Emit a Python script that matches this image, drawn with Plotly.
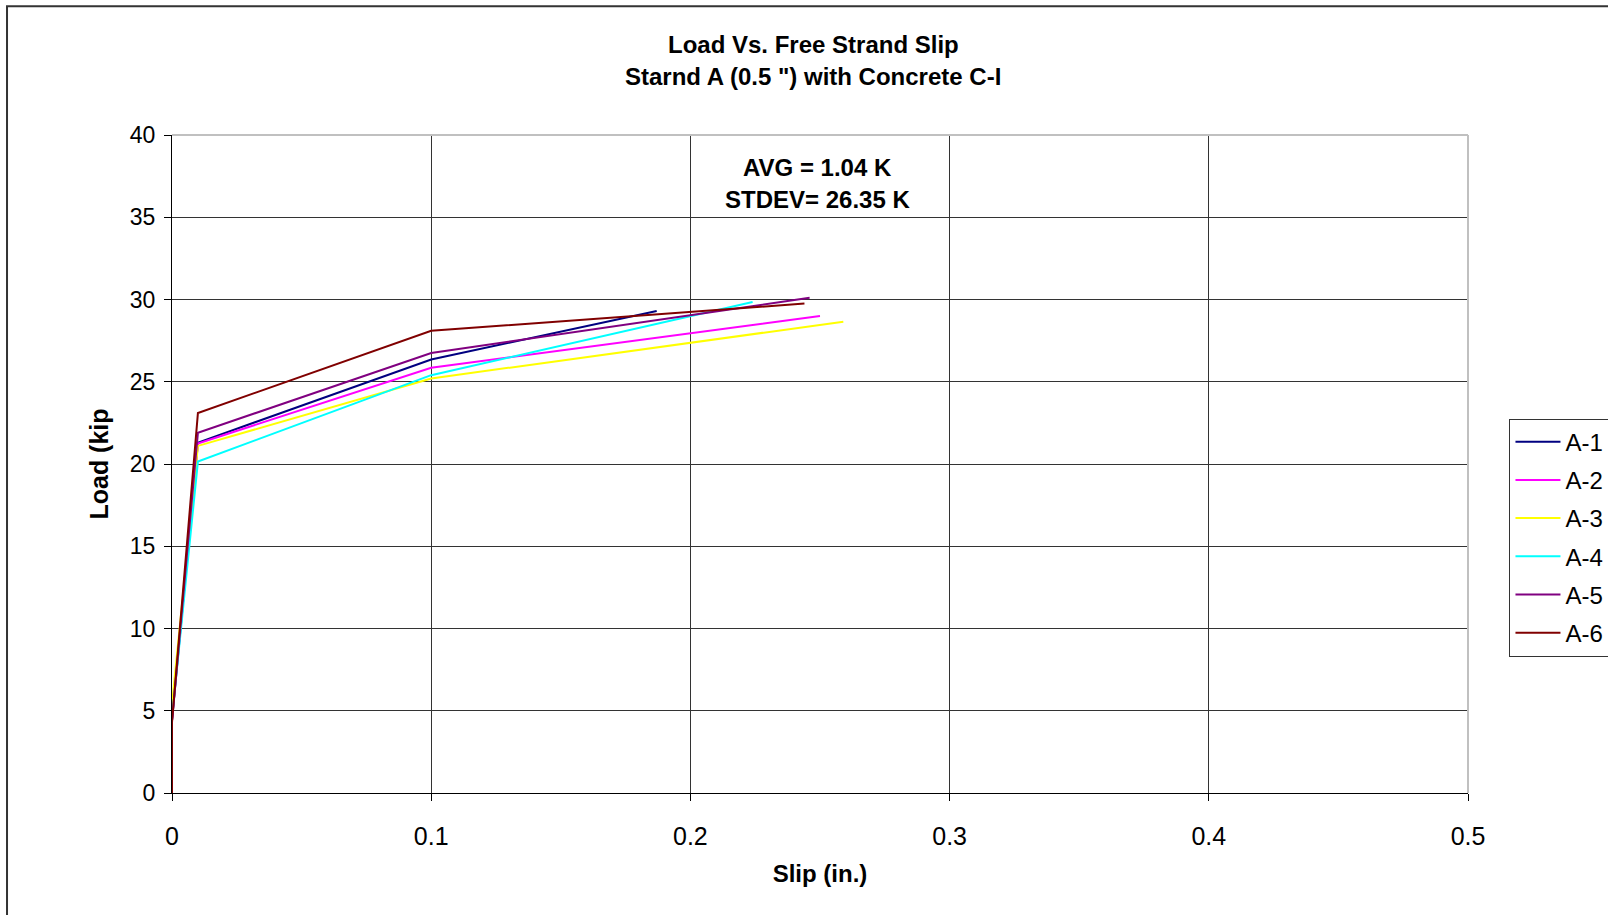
import plotly.graph_objects as go

names = ["A-1", "A-2", "A-3", "A-4", "A-5", "A-6"]
colors = ["#000080", "#FF00FF", "#FFFF00", "#00FFFF", "#800080", "#800000"]

slip_a1 = [0, 0, 0.01, 0.1, 0.187]
load_a1 = [0, 4.4, 21.3, 26.35, 29.3]
slip_a2 = [0, 0, 0.01, 0.1, 0.250]
load_a2 = [0, 4.5, 21.25, 25.85, 29.0]
slip_a3 = [0, 0, 0.01, 0.1, 0.259]
load_a3 = [0, 5.4, 21.1, 25.2, 28.65]
slip_a4 = [0, 0, 0.01, 0.1, 0.224]
load_a4 = [0, 4.6, 20.15, 25.4, 29.85]
slip_a5 = [0, 0, 0.01, 0.1, 0.246]
load_a5 = [0, 4.4, 21.9, 26.75, 30.1]
slip_a6 = [0, 0, 0.01, 0.1, 0.244]
load_a6 = [0, 4.3, 23.1, 28.1, 29.75]

slips = [slip_a1, slip_a2, slip_a3, slip_a4, slip_a5, slip_a6]
loads = [load_a1, load_a2, load_a3, load_a4, load_a5, load_a6]

x_ticks = [0, 0.1, 0.2, 0.3, 0.4, 0.5]
y_ticks = [0, 5, 10, 15, 20, 25, 30, 35, 40]

FONT = "Liberation Sans, Arial, sans-serif"

fig = go.Figure()
for n, c, xs, ys in zip(names, colors, slips, loads):
    fig.add_trace(go.Scatter(x=xs, y=ys, mode="lines", name=n, legendgroup=n,
                             line=dict(color=c, width=2)))

fig.update_layout(
    width=1608, height=915,
    margin=dict(l=172, r=140, t=135, b=122, autoexpand=False),
    paper_bgcolor="white", plot_bgcolor="white",
    font=dict(family=FONT, color="black"),
    showlegend=True,
    legend=dict(x=1.032, y=0.569, xanchor="left", yanchor="top",
                bordercolor="#333333", borderwidth=1, bgcolor="white",
                font=dict(size=24, family=FONT), traceorder="grouped",
                tracegroupgap=4, itemwidth=45),
    xaxis=dict(range=[0, 0.5], tickvals=x_ticks, ticktext=[str(v) for v in x_ticks],
               showgrid=True, gridcolor="#333333", gridwidth=1,
               showline=True, linecolor="black", linewidth=1,
               ticks="outside", ticklen=7, tickcolor="black",
               tickfont=dict(size=25), ticklabelstandoff=14, zeroline=False,
               title=dict(text="<b>Slip (in.)</b>", font=dict(size=24), standoff=16)),
    yaxis=dict(range=[0, 40], tickvals=y_ticks,
               showgrid=True, gridcolor="#333333", gridwidth=1,
               showline=True, linecolor="black", linewidth=1,
               ticks="outside", ticklen=7, tickcolor="black",
               tickfont=dict(size=23), ticklabelstandoff=4, zeroline=False,
               title=dict(text="<b>Load (kip</b>", font=dict(size=25), standoff=14)),
)

# light gray plot border on top and right
fig.add_shape(type="line", xref="paper", yref="paper", x0=0, x1=1, y0=1, y1=1,
              line=dict(color="#c0c0c0", width=2), layer="above")
fig.add_shape(type="line", xref="paper", yref="paper", x0=1, x1=1, y0=0, y1=1,
              line=dict(color="#c0c0c0", width=2), layer="above")
# outer chart frame
fig.add_shape(type="rect", xref="paper", yref="paper", x0=-0.1273, x1=1.5,
              y0=-0.6, y1=1.1956, line=dict(color="#333333", width=2), layer="below")

fig.add_annotation(text="<b>Load Vs. Free Strand Slip</b>", xref="paper", yref="paper",
                   x=0.4946, y=(792.7 - 44) / 658, showarrow=False,
                   xanchor="center", yanchor="middle", font=dict(size=24))
fig.add_annotation(text="<b>Starnd A (0.5 \") with Concrete C-I</b>", xref="paper", yref="paper",
                   x=0.4946, y=(792.7 - 76) / 658, showarrow=False,
                   xanchor="center", yanchor="middle", font=dict(size=24))
fig.add_annotation(text="<b>AVG = 1.04 K</b>", xref="paper", yref="paper",
                   x=0.4977, y=(792.7 - 167) / 658, showarrow=False,
                   xanchor="center", yanchor="middle", font=dict(size=24))
fig.add_annotation(text="<b>STDEV= 26.35 K</b>", xref="paper", yref="paper",
                   x=0.4977, y=(792.7 - 199) / 658, showarrow=False,
                   xanchor="center", yanchor="middle", font=dict(size=24))

fig.write_html("out.html")
